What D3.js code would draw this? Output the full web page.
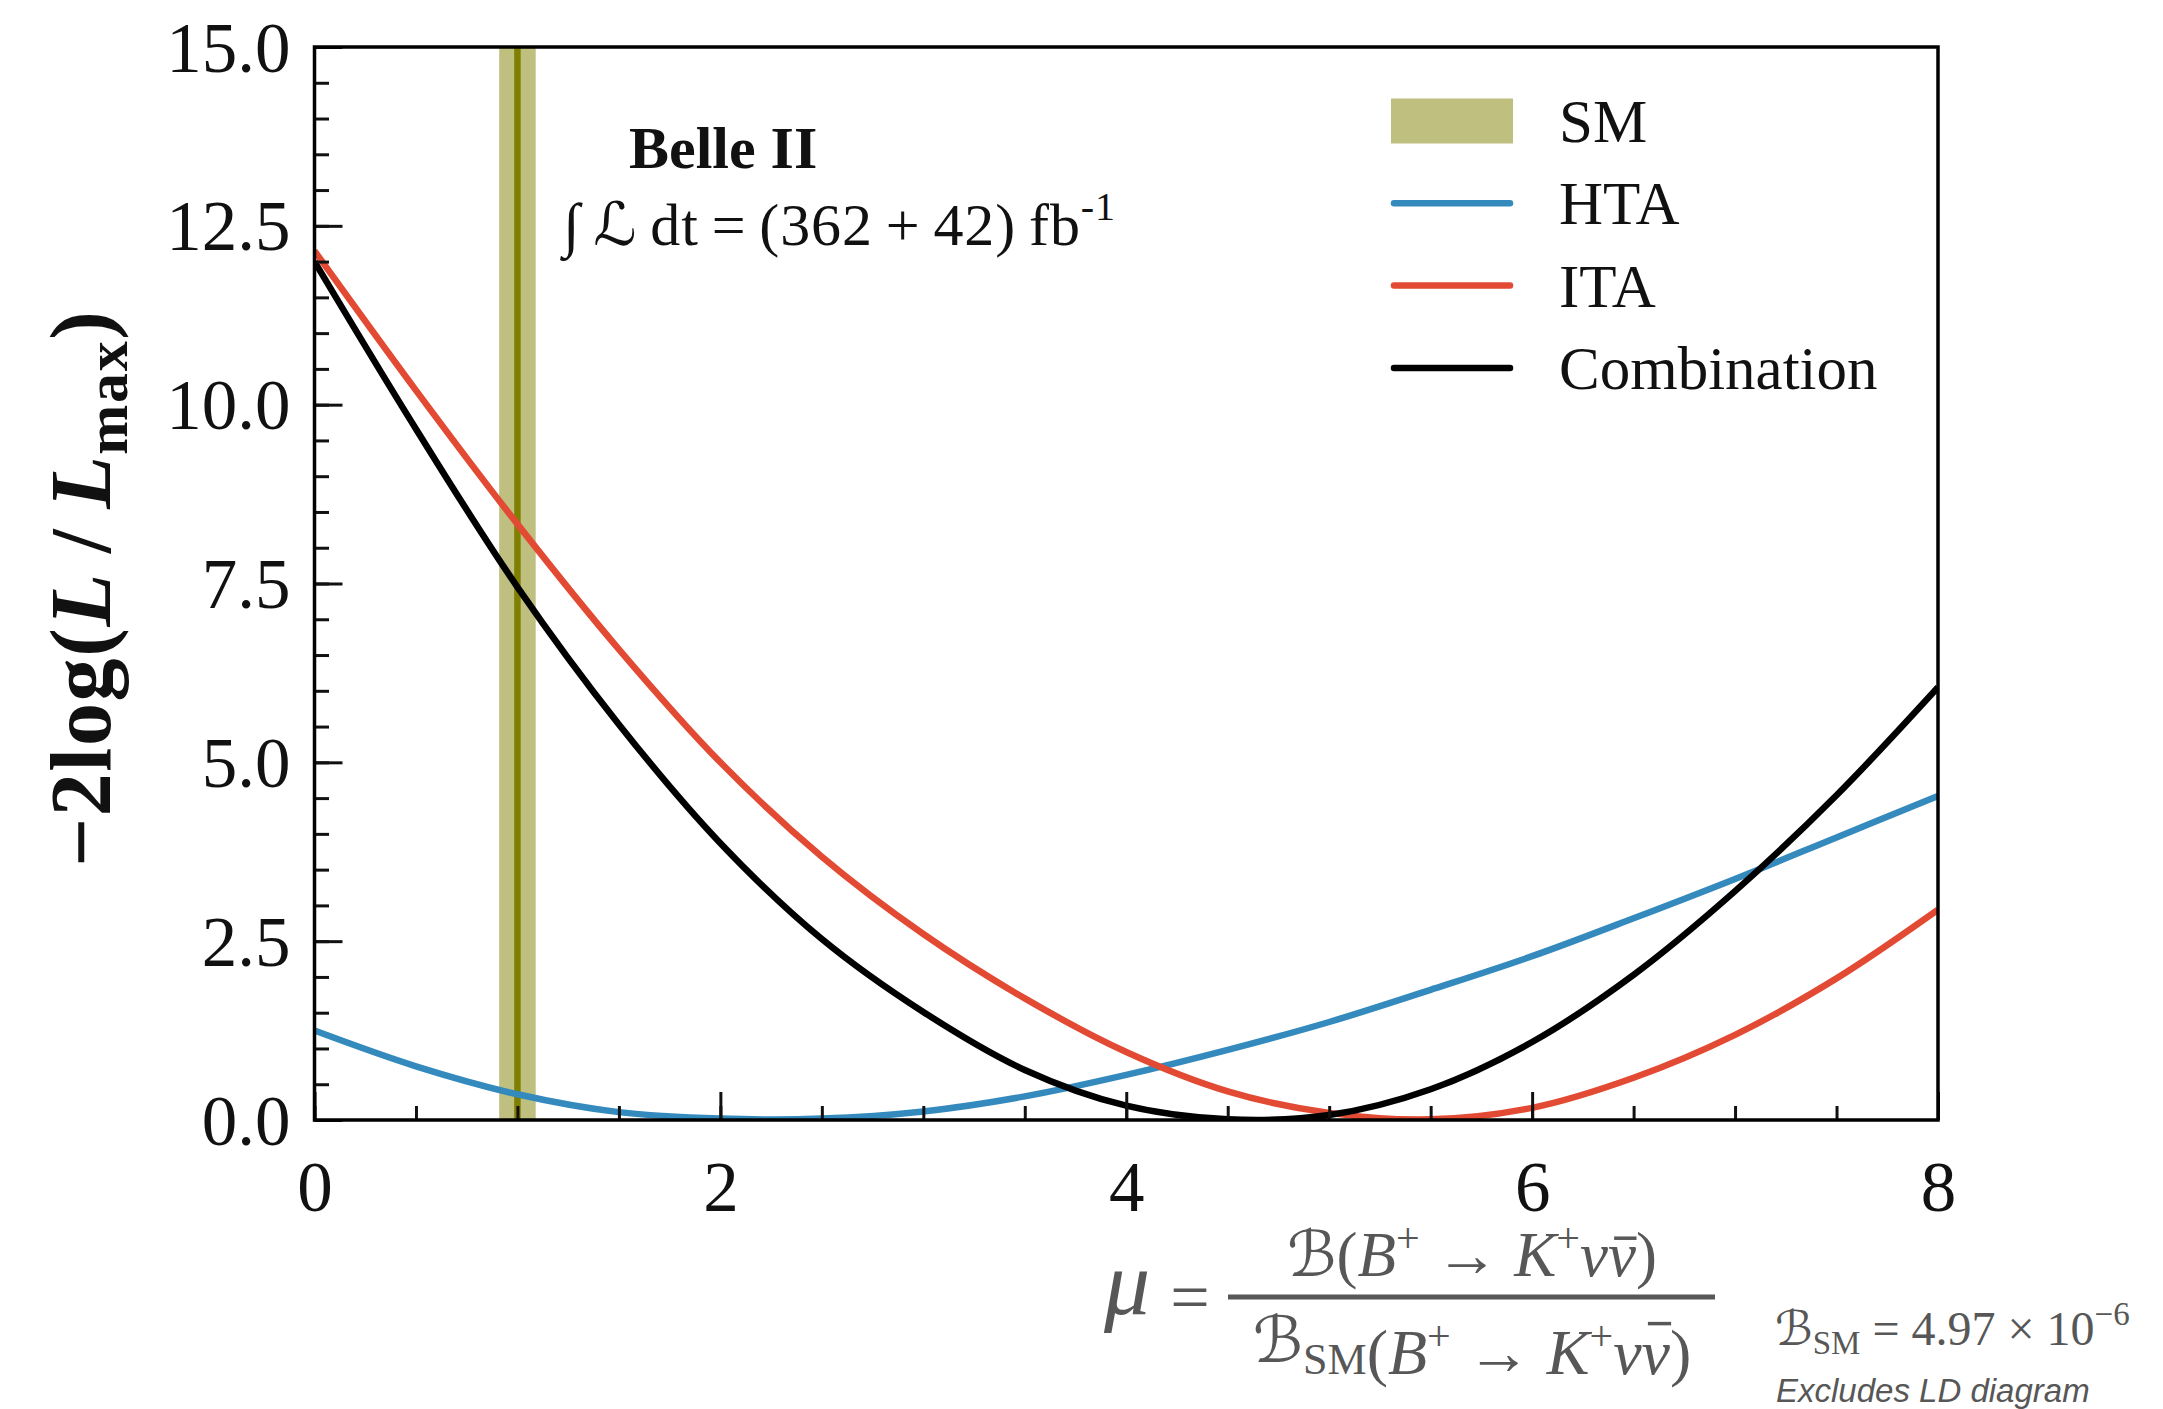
<!DOCTYPE html>
<html lang="en">
<head>
<meta charset="UTF-8">
<title>Belle II B+ -> K+ nu nubar likelihood scan</title>
<script src="https://cdn.jsdelivr.net/npm/d3@7"></script>
<style>
  body { margin: 0; background: #fff; }
  svg { display: block; }
  .serif { font-family: "Liberation Serif", "DejaVu Serif", "DejaVu Sans", serif; }
</style>
</head>
<body>
<div id="chart"></div>
<script>
// signal strength grid and -2 log(L/Lmax)
var muGrid = [0, 0.5, 1, 1.5, 2, 2.5, 3, 3.5, 4, 4.5, 5, 5.5, 6, 6.5, 7, 7.5, 8];
var htaValues  = [1.25, 0.75, 0.36, 0.11, 0.02, 0.02, 0.12, 0.33, 0.63, 0.98, 1.37, 1.82, 2.29, 2.82, 3.37, 3.95, 4.53];
var itaValues  = [12.15, 10.2, 8.33, 6.58, 5.0, 3.68, 2.6, 1.7, 0.95, 0.40, 0.10, 0.01, 0.17, 0.59, 1.19, 1.98, 2.94];
var combValues = [12.0, 9.66, 7.45, 5.53, 3.87, 2.53, 1.51, 0.70, 0.20, 0.01, 0.07, 0.43, 1.09, 2.03, 3.2, 4.54, 6.05];

var smBand = [0.91, 1.09];
var smCentral = 1.0;

var xMajorTicks = [0, 2, 4, 6, 8];
var yMajorTicks = [0, 2.5, 5, 7.5, 10, 12.5, 15];
var xMinorTicks = d3.range(0, 8.01, 0.5);
var yMinorTicks = d3.range(0, 15.01, 0.5);

var seriesNames = ["HTA", "ITA", "Combination"];
var seriesColors = ["#348ABD", "#E24A33", "#000000"];
var legendLabels = ["SM", "HTA", "ITA", "Combination"];

var W = 2163, H = 1409;
var plot = {left: 314.5, right: 1938, top: 47, bottom: 1120};

var svg = d3.select("#chart").append("svg")
    .attr("width", W).attr("height", H)
    .attr("class", "serif");

var x = d3.scaleLinear().domain([0, 8]).range([plot.left, plot.right]);
var y = d3.scaleLinear().domain([0, 15]).range([plot.bottom, plot.top]);

svg.append("clipPath").attr("id", "clip")
  .append("rect")
    .attr("x", plot.left).attr("y", plot.top)
    .attr("width", plot.right - plot.left).attr("height", plot.bottom - plot.top);

var inner = svg.append("g").attr("clip-path", "url(#clip)");

// SM band and central value
inner.append("rect")
    .attr("x", x(smBand[0])).attr("y", plot.top)
    .attr("width", x(smBand[1]) - x(smBand[0]))
    .attr("height", plot.bottom - plot.top)
    .attr("fill", "#808000").attr("fill-opacity", 0.5);

inner.append("line")
    .attr("x1", x(smCentral)).attr("x2", x(smCentral))
    .attr("y1", plot.top).attr("y2", plot.bottom)
    .attr("stroke", "#808000").attr("stroke-width", 6.5);

var series = [htaValues, itaValues, combValues].map(function(vals, i) {
  return {name: seriesNames[i], color: seriesColors[i],
          points: vals.map(function(v, j) { return [muGrid[j], v]; })};
});

var line = d3.line()
    .x(function(d) { return x(d[0]); })
    .y(function(d) { return y(Math.max(d[1], 0)); })
    .curve(d3.curveCatmullRom.alpha(0.5));

inner.selectAll(".curve")
    .data(series)
  .enter().append("path")
    .attr("class", "curve")
    .attr("d", function(d) { return line(d.points); })
    .attr("fill", "none")
    .attr("stroke", function(d) { return d.color; })
    .attr("stroke-width", 6.5)
    .attr("stroke-linejoin", "round");

// axes: ticks point inward, labels outside
var yMinor = svg.append("g")
    .attr("transform", "translate(" + plot.left + ",0)")
    .call(d3.axisLeft(y).tickValues(yMinorTicks).tickSize(-14.5).tickFormat(""));
var yMajor = svg.append("g")
    .attr("transform", "translate(" + plot.left + ",0)")
    .call(d3.axisLeft(y).tickValues(yMajorTicks).tickSize(-28).tickPadding(24)
          .tickFormat(d3.format(".1f")));
var xMinor = svg.append("g")
    .attr("transform", "translate(0," + plot.bottom + ")")
    .call(d3.axisBottom(x).tickValues(xMinorTicks).tickSize(-14).tickFormat(""));
var xMajor = svg.append("g")
    .attr("transform", "translate(0," + plot.bottom + ")")
    .call(d3.axisBottom(x).tickValues(xMajorTicks).tickSize(-28).tickPadding(41)
          .tickFormat(d3.format("d")));

[yMinor, yMajor, xMinor, xMajor].forEach(function(g) {
  g.select(".domain").remove();
  g.selectAll(".tick line").attr("stroke", "#111").attr("stroke-width", 3);
  g.selectAll(".tick text")
      .attr("fill", "#111")
      .attr("font-size", 71)
      .attr("font-family", "Liberation Serif, DejaVu Serif, serif");
});
yMajor.selectAll(".tick text").attr("dy", "0.34em");

svg.append("rect")
    .attr("x", plot.left).attr("y", plot.top)
    .attr("width", plot.right - plot.left).attr("height", plot.bottom - plot.top)
    .attr("fill", "none").attr("stroke", "#000").attr("stroke-width", 3.5);

// y label
svg.append("text")
    .attr("transform", "translate(110,589) rotate(-90)")
    .attr("text-anchor", "middle")
    .attr("font-size", 86)
    .attr("font-weight", "bold")
    .attr("fill", "#111")
    .attr("textLength", 556)
    .attr("lengthAdjust", "spacing")
    .html('\u22122log(<tspan font-style="italic">L</tspan>\u2009/\u2009<tspan font-style="italic">L</tspan>' +
          '<tspan font-size="60" dy="17">max</tspan><tspan dy="-17">)</tspan>');

// experiment label
svg.append("text")
    .attr("x", 629).attr("y", 168)
    .attr("font-size", 60).attr("font-weight", "bold").attr("fill", "#111")
    .text("Belle II");
svg.append("text")
    .attr("x", 563).attr("y", 245)
    .attr("font-size", 60).attr("fill", "#111")
    .attr("textLength", 552)
    .attr("lengthAdjust", "spacing")
    .html('\u222B\u2009<tspan font-style="italic">\u2112</tspan>\u2009dt\u2009=\u2009(362\u2009+\u200942)\u2009fb' +
          '<tspan font-size="40" dy="-25">-1</tspan>');

// legend
var legendX = 1391, legendW = 122, legendY0 = 121, legendStep = 82.3;
var legend = svg.append("g");
legendLabels.forEach(function(lab, i) {
  var cy = legendY0 + i * legendStep;
  if (i === 0) {
    legend.append("rect")
        .attr("x", legendX).attr("y", cy - 22.5)
        .attr("width", legendW).attr("height", 45)
        .attr("fill", "#808000").attr("fill-opacity", 0.5);
  } else {
    legend.append("line")
        .attr("x1", legendX + 3).attr("x2", legendX + legendW - 3)
        .attr("y1", cy).attr("y2", cy)
        .attr("stroke", seriesColors[i - 1]).attr("stroke-width", 6.5)
        .attr("stroke-linecap", "round");
  }
  legend.append("text")
      .attr("x", 1559).attr("y", cy + 21)
      .attr("font-size", 61).attr("fill", "#111")
      .text(lab);
});

// x label: mu = B(B+ -> K+ nu nubar) / B_SM(B+ -> K+ nu nubar)
var grey = "#575757";
var xl = svg.append("g").attr("fill", grey);
xl.append("text")
    .attr("x", 1104).attr("y", 1314)
    .attr("font-size", 92).attr("font-style", "italic")
    .text("\u03BC");
xl.append("text")
    .attr("x", 1190).attr("y", 1321)
    .attr("font-size", 70).attr("text-anchor", "middle")
    .text("=");
xl.append("line")
    .attr("x1", 1228).attr("x2", 1715)
    .attr("y1", 1297).attr("y2", 1297)
    .attr("stroke", grey).attr("stroke-width", 5);

var decay = '(<tspan font-style="italic">B</tspan><tspan font-size="42" dy="-24">+</tspan>' +
            '<tspan dy="24"> \u2192 </tspan><tspan font-style="italic">K</tspan>' +
            '<tspan font-size="42" dy="-24">+</tspan><tspan dy="24" font-style="italic">\u03BD</tspan>' +
            '<tspan font-style="italic" class="nubar">\u03BD</tspan>)';
var fracParts = [
  {y: 1276, size: 63, html: '<tspan font-style="italic">\u212C</tspan>' + decay},
  {y: 1362, size: 64, html: '<tspan font-style="italic">\u212C</tspan><tspan font-size="44" dy="12">SM</tspan><tspan dy="-12"></tspan>' + decay}
];
fracParts.forEach(function(p) {
  var t = xl.append("text")
      .attr("x", 1472).attr("y", p.y)
      .attr("font-size", p.size).attr("text-anchor", "middle")
      .html(p.html);
  // bar over the anti-neutrino
  var bb = t.select(".nubar").node().getBBox();
  xl.append("line")
      .attr("x1", bb.x + bb.width * 0.22).attr("x2", bb.x + bb.width * 1.02)
      .attr("y1", p.y - 0.6 * p.size).attr("y2", p.y - 0.6 * p.size)
      .attr("stroke", grey).attr("stroke-width", 3.5);
});

xl.append("text")
    .attr("x", 1775).attr("y", 1345)
    .attr("font-size", 48)
    .html('<tspan font-style="italic">\u212C</tspan><tspan font-size="33" dy="9">SM</tspan>' +
          '<tspan dy="-9"> = 4.97 \u00D7 10</tspan><tspan font-size="33" dy="-20">\u22126</tspan>');
xl.append("text")
    .attr("x", 1776).attr("y", 1402)
    .attr("font-size", 33).attr("font-style", "italic")
    .attr("font-family", "Liberation Sans, Arial, sans-serif")
    .text("Excludes LD diagram");
</script>
</body>
</html>
